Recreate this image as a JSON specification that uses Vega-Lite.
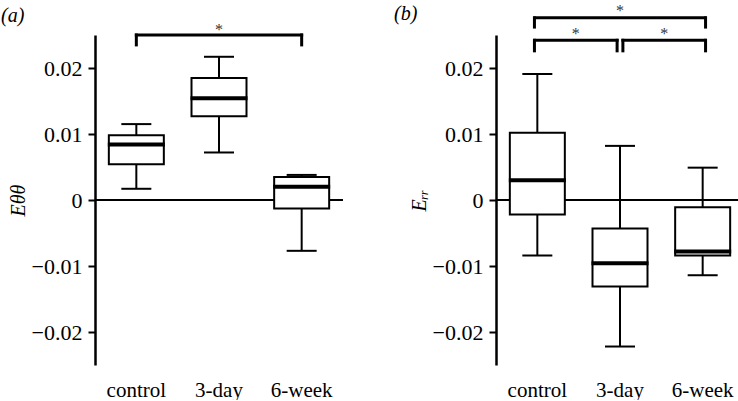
{
  "$schema": "https://vega.github.io/schema/vega-lite/v6.json",
  "background": "white",
  "padding": {"left": 1, "top": 2, "right": 0, "bottom": 0},
  "spacing": 50,
  "datasets": {
    "boxes": [
      {"panel": "a", "group": "control", "lo": 0.0017, "q1": 0.0054, "med": 0.0084, "q3": 0.0098, "hi": 0.0115},
      {"panel": "a", "group": "3-day", "lo": 0.0072, "q1": 0.0127, "med": 0.0154, "q3": 0.0185, "hi": 0.0217},
      {"panel": "a", "group": "6-week", "lo": -0.0077, "q1": -0.0013, "med": 0.0020, "q3": 0.0035, "hi": 0.0038},
      {"panel": "b", "group": "control", "lo": -0.0084, "q1": -0.0022, "med": 0.0030, "q3": 0.0102, "hi": 0.0191},
      {"panel": "b", "group": "3-day", "lo": -0.0222, "q1": -0.0131, "med": -0.0096, "q3": -0.0043, "hi": 0.0082},
      {"panel": "b", "group": "6-week", "lo": -0.0114, "q1": -0.0084, "med": -0.0078, "q3": -0.0011, "hi": 0.0049}
    ],
    "brackets": [
      {"panel": "a", "kind": "c", "from": "control", "to": "6-week", "y": 0.0250},
      {"panel": "b", "kind": "mp", "from": "control", "to": "6-week", "y": 0.0276},
      {"panel": "b", "kind": "mm", "from": "control", "to": "3-day", "y": 0.0242},
      {"panel": "b", "kind": "pp", "from": "3-day", "to": "6-week", "y": 0.0242}
    ],
    "ends": [
      {"panel": "a", "side": "c", "at": "control", "y": 0.0250, "yEnd": 0.0235},
      {"panel": "a", "side": "c", "at": "6-week", "y": 0.0250, "yEnd": 0.0235},
      {"panel": "b", "side": "m", "at": "control", "y": 0.0276, "yEnd": 0.0262},
      {"panel": "b", "side": "p", "at": "6-week", "y": 0.0276, "yEnd": 0.0262},
      {"panel": "b", "side": "m", "at": "control", "y": 0.0242, "yEnd": 0.0226},
      {"panel": "b", "side": "m", "at": "3-day", "y": 0.0242, "yEnd": 0.0226},
      {"panel": "b", "side": "p", "at": "3-day", "y": 0.0242, "yEnd": 0.0226},
      {"panel": "b", "side": "p", "at": "6-week", "y": 0.0242, "yEnd": 0.0226}
    ],
    "stars": [
      {"panel": "a", "kind": "c", "at": "3-day", "y": 0.0257, "label": "*"},
      {"panel": "b", "kind": "c", "at": "3-day", "y": 0.0287, "label": "*"},
      {"panel": "b", "kind": "m", "at": "control", "y": 0.0252, "label": "*"},
      {"panel": "b", "kind": "p", "at": "3-day", "y": 0.0252, "label": "*"}
    ]
  },
  "hconcat": [
    {
      "width": 248,
      "height": 330,
      "title": {"text": "(a)", "anchor": "start", "frame": "bounds", "offset": -4, "dx": -7, "font": "Liberation Serif", "fontSize": 20, "fontStyle": "italic", "fontWeight": "normal", "color": "black"},
      "layer": [
        {
          "data": {"values": [{"zero": 0}]},
          "mark": {"type": "rule", "strokeWidth": 2, "color": "black"},
          "encoding": {"y": {"field": "zero", "type": "quantitative", "title": "Eθθ", "scale": {"domain": [-0.025, 0.025], "nice": false, "zero": false}, "axis": {"values": [-0.02, -0.01, 0, 0.01, 0.02], "format": ".2~f", "title": "Eθθ"}}}
        },
        {
          "data": {"name": "boxes"}, "transform": [{"filter": "datum.panel === 'a'"}],
          "mark": {"type": "rule", "strokeWidth": 2, "color": "black"},
          "encoding": {
            "x": {"field": "group", "type": "nominal", "scale": {"domain": ["control", "3-day", "6-week"], "paddingInner": 0, "paddingOuter": 0}, "title": null},
            "y": {"field": "lo", "type": "quantitative", "title": "Eθθ"}, "y2": {"field": "hi"}
          }
        },
        {
          "data": {"name": "boxes"}, "transform": [{"filter": "datum.panel === 'a'"}],
          "mark": {"type": "bar", "width": 55, "fill": "white", "stroke": "black", "strokeWidth": 2},
          "encoding": {
            "x": {"field": "group", "type": "nominal", "title": null},
            "y": {"field": "q1", "type": "quantitative", "title": "Eθθ"}, "y2": {"field": "q3"}
          }
        },
        {
          "data": {"name": "boxes"}, "transform": [{"filter": "datum.panel === 'a'"}],
          "mark": {"type": "tick", "size": 57, "thickness": 4, "color": "black", "opacity": 1},
          "encoding": {"x": {"field": "group", "type": "nominal", "title": null}, "y": {"field": "med", "type": "quantitative", "title": "Eθθ"}}
        },
        {
          "data": {"name": "boxes"}, "transform": [{"filter": "datum.panel === 'a'"}],
          "mark": {"type": "tick", "size": 30, "thickness": 2, "color": "black", "opacity": 1},
          "encoding": {"x": {"field": "group", "type": "nominal", "title": null}, "y": {"field": "lo", "type": "quantitative", "title": "Eθθ"}}
        },
        {
          "data": {"name": "boxes"}, "transform": [{"filter": "datum.panel === 'a'"}],
          "mark": {"type": "tick", "size": 30, "thickness": 2, "color": "black", "opacity": 1},
          "encoding": {"x": {"field": "group", "type": "nominal", "title": null}, "y": {"field": "hi", "type": "quantitative", "title": "Eθθ"}}
        },
        {
          "data": {"name": "brackets"}, "transform": [{"filter": "datum.panel === 'a'"}],
          "mark": {"type": "rule", "strokeWidth": 3, "strokeCap": "square", "color": "black"},
          "encoding": {"x": {"field": "from", "type": "nominal", "bandPosition": 0.5, "title": null}, "x2": {"field": "to", "bandPosition": 0.5}, "y": {"field": "y", "type": "quantitative", "title": "Eθθ"}}
        },
        {
          "data": {"name": "ends"}, "transform": [{"filter": "datum.panel === 'a'"}],
          "mark": {"type": "rule", "strokeWidth": 3, "strokeCap": "square", "color": "black"},
          "encoding": {"x": {"field": "at", "type": "nominal", "bandPosition": 0.5, "title": null}, "y": {"field": "y", "type": "quantitative", "title": "Eθθ"}, "y2": {"field": "yEnd"}}
        },
        {
          "data": {"name": "stars"}, "transform": [{"filter": "datum.panel === 'a'"}],
          "mark": {"type": "text", "font": "Liberation Serif", "fontSize": 16, "fill": "#333333", "baseline": "middle", "align": "center"},
          "encoding": {"x": {"field": "at", "type": "nominal", "bandPosition": 0.5, "title": null}, "y": {"field": "y", "type": "quantitative", "title": "Eθθ"}, "text": {"field": "label"}}
        }
      ]
    },
    {
      "width": 248,
      "height": 330,
      "title": {"text": "(b)", "anchor": "start", "frame": "bounds", "offset": -21, "dx": -15, "font": "Liberation Serif", "fontSize": 20, "fontStyle": "italic", "fontWeight": "normal", "color": "black"},
      "layer": [
        {
          "data": {"values": [{"zero": 0}]},
          "mark": {"type": "rule", "strokeWidth": 2, "color": "black"},
          "encoding": {"y": {"field": "zero", "type": "quantitative", "title": "Eᵣᵣ", "scale": {"domain": [-0.025, 0.025], "nice": false, "zero": false}, "axis": {"values": [-0.02, -0.01, 0, 0.01, 0.02], "format": ".2~f", "title": "Eᵣᵣ"}}}
        },
        {
          "data": {"name": "boxes"}, "transform": [{"filter": "datum.panel === 'b'"}],
          "mark": {"type": "rule", "strokeWidth": 2, "color": "black"},
          "encoding": {
            "x": {"field": "group", "type": "nominal", "scale": {"domain": ["control", "3-day", "6-week"], "paddingInner": 0, "paddingOuter": 0}, "title": null},
            "y": {"field": "lo", "type": "quantitative", "title": "Eᵣᵣ"}, "y2": {"field": "hi"}
          }
        },
        {
          "data": {"name": "boxes"}, "transform": [{"filter": "datum.panel === 'b'"}],
          "mark": {"type": "bar", "width": 55, "fill": "white", "stroke": "black", "strokeWidth": 2},
          "encoding": {
            "x": {"field": "group", "type": "nominal", "title": null},
            "y": {"field": "q1", "type": "quantitative", "title": "Eᵣᵣ"}, "y2": {"field": "q3"}
          }
        },
        {
          "data": {"name": "boxes"}, "transform": [{"filter": "datum.panel === 'b'"}],
          "mark": {"type": "tick", "size": 57, "thickness": 4, "color": "black", "opacity": 1},
          "encoding": {"x": {"field": "group", "type": "nominal", "title": null}, "y": {"field": "med", "type": "quantitative", "title": "Eᵣᵣ"}}
        },
        {
          "data": {"name": "boxes"}, "transform": [{"filter": "datum.panel === 'b'"}],
          "mark": {"type": "tick", "size": 30, "thickness": 2, "color": "black", "opacity": 1},
          "encoding": {"x": {"field": "group", "type": "nominal", "title": null}, "y": {"field": "lo", "type": "quantitative", "title": "Eᵣᵣ"}}
        },
        {
          "data": {"name": "boxes"}, "transform": [{"filter": "datum.panel === 'b'"}],
          "mark": {"type": "tick", "size": 30, "thickness": 2, "color": "black", "opacity": 1},
          "encoding": {"x": {"field": "group", "type": "nominal", "title": null}, "y": {"field": "hi", "type": "quantitative", "title": "Eᵣᵣ"}}
        },
        {
          "data": {"name": "brackets"}, "transform": [{"filter": "datum.panel === 'b' && datum.kind === 'mp'"}],
          "mark": {"type": "rule", "strokeWidth": 3, "strokeCap": "square", "color": "black"},
          "encoding": {"x": {"field": "from", "type": "nominal", "bandPosition": 0.47, "title": null}, "x2": {"field": "to", "bandPosition": 0.53}, "y": {"field": "y", "type": "quantitative", "title": "Eᵣᵣ"}}
        },
        {
          "data": {"name": "brackets"}, "transform": [{"filter": "datum.panel === 'b' && datum.kind === 'mm'"}],
          "mark": {"type": "rule", "strokeWidth": 3, "strokeCap": "square", "color": "black"},
          "encoding": {"x": {"field": "from", "type": "nominal", "bandPosition": 0.47, "title": null}, "x2": {"field": "to", "bandPosition": 0.465}, "y": {"field": "y", "type": "quantitative", "title": "Eᵣᵣ"}}
        },
        {
          "data": {"name": "brackets"}, "transform": [{"filter": "datum.panel === 'b' && datum.kind === 'pp'"}],
          "mark": {"type": "rule", "strokeWidth": 3, "strokeCap": "square", "color": "black"},
          "encoding": {"x": {"field": "from", "type": "nominal", "bandPosition": 0.535, "title": null}, "x2": {"field": "to", "bandPosition": 0.53}, "y": {"field": "y", "type": "quantitative", "title": "Eᵣᵣ"}}
        },
        {
          "data": {"name": "ends"}, "transform": [{"filter": "datum.panel === 'b' && datum.side === 'm'"}],
          "mark": {"type": "rule", "strokeWidth": 3, "strokeCap": "square", "color": "black"},
          "encoding": {"x": {"field": "at", "type": "nominal", "bandPosition": 0.465, "title": null}, "y": {"field": "y", "type": "quantitative", "title": "Eᵣᵣ"}, "y2": {"field": "yEnd"}}
        },
        {
          "data": {"name": "ends"}, "transform": [{"filter": "datum.panel === 'b' && datum.side === 'p'"}],
          "mark": {"type": "rule", "strokeWidth": 3, "strokeCap": "square", "color": "black"},
          "encoding": {"x": {"field": "at", "type": "nominal", "bandPosition": 0.535, "title": null}, "y": {"field": "y", "type": "quantitative", "title": "Eᵣᵣ"}, "y2": {"field": "yEnd"}}
        },
        {
          "data": {"name": "stars"}, "transform": [{"filter": "datum.panel === 'b' && datum.kind === 'c'"}],
          "mark": {"type": "text", "font": "Liberation Serif", "fontSize": 16, "fill": "#333333", "baseline": "middle", "align": "center"},
          "encoding": {"x": {"field": "at", "type": "nominal", "bandPosition": 0.5, "title": null}, "y": {"field": "y", "type": "quantitative", "title": "Eᵣᵣ"}, "text": {"field": "label"}}
        },
        {
          "data": {"name": "stars"}, "transform": [{"filter": "datum.panel === 'b' && datum.kind === 'm'"}],
          "mark": {"type": "text", "font": "Liberation Serif", "fontSize": 16, "fill": "#333333", "baseline": "middle", "align": "center"},
          "encoding": {"x": {"field": "at", "type": "nominal", "bandPosition": 0.965, "title": null}, "y": {"field": "y", "type": "quantitative", "title": "Eᵣᵣ"}, "text": {"field": "label"}}
        },
        {
          "data": {"name": "stars"}, "transform": [{"filter": "datum.panel === 'b' && datum.kind === 'p'"}],
          "mark": {"type": "text", "font": "Liberation Serif", "fontSize": 16, "fill": "#333333", "baseline": "middle", "align": "center"},
          "encoding": {"x": {"field": "at", "type": "nominal", "bandPosition": 1.035, "title": null}, "y": {"field": "y", "type": "quantitative", "title": "Eᵣᵣ"}, "text": {"field": "label"}}
        }
      ]
    }
  ],
  "config": {
    "view": {"stroke": null},
    "axis": {"grid": false, "labelFont": "Liberation Serif", "labelColor": "black", "titleFont": "Liberation Serif", "titleFontSize": 20, "titleFontStyle": "italic", "titleFontWeight": "normal", "titleColor": "black", "domainColor": "black", "tickColor": "black"},
    "axisX": {"domain": false, "ticks": false, "labelAngle": 0, "labelPadding": 14, "labelFontSize": 21},
    "axisY": {"domainWidth": 2.5, "tickWidth": 2, "tickSize": 7, "labelPadding": 6, "titlePadding": 3, "labelFontSize": 22}
  }
}
